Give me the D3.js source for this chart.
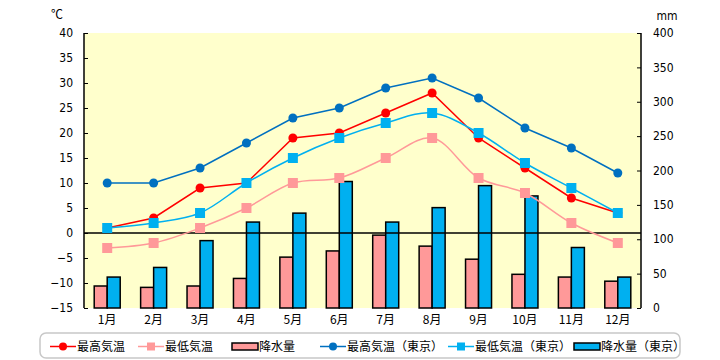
<!DOCTYPE html>
<html><head><meta charset="utf-8">
<script src="https://cdn.jsdelivr.net/npm/d3@7"></script>
<style>
html,body{margin:0;padding:0;background:#fff;}
svg{display:block;}
.jp{font-family:"Noto Sans CJK JP","Noto Sans",sans-serif;}
.num{font-family:"Liberation Sans Narrow","DejaVu Sans Condensed","Liberation Sans",sans-serif;}
</style></head>
<body>
<svg id="c" width="720" height="360"></svg>
<script>
const months = ["1月","2月","3月","4月","5月","6月","7月","8月","9月","10月","11月","12月"];
const highTemp = [1,3,9,10,19,20,24,28,19,13,7,4];
const lowTemp = [-3,-2,1,5,10,11,15,19,11,8,2,-2];
const precip = [32,30,32,43,74,83,106,90,71,49,45,39];
const highTokyo = [10,10,13,18,23,25,29,31,27,21,17,12];
const lowTokyo = [1,2,4,10,15,19,22,24,20,14,9,4];
const precipTokyo = [45,59,98,125,138,184,125,146,178,163,88,45];
const tempTicks = [-15,-10,-5,0,5,10,15,20,25,30,35,40];
const mmTicks = [0,50,100,150,200,250,300,350,400];
const legendLabels = ["最高気温","最低気温","降水量","最高気温（東京）","最低気温（東京）","降水量（東京）"];

const svg = d3.select("#c");
const L = 84, R = 641, T = 33, B = 308;
const x = d3.scaleBand().domain(months).range([L, R]);
const yT = d3.scaleLinear().domain([-15, 40]).range([B, T]);
const yP = d3.scaleLinear().domain([0, 400]).range([B, T]);

svg.append("rect").attr("x", L).attr("y", T).attr("width", R - L).attr("height", B - T).attr("fill", "#ffffcc");

const bw = 13;
const cx = m => x(m) + x.bandwidth() / 2;
// bars
svg.append("g").selectAll("rect").data(months).join("rect")
  .attr("x", m => cx(m) - bw).attr("y", (m, i) => yP(precip[i]))
  .attr("width", bw).attr("height", (m, i) => B - yP(precip[i]))
  .attr("fill", "#ff9999").attr("stroke", "#000").attr("stroke-width", 1.5);
svg.append("g").selectAll("rect").data(months).join("rect")
  .attr("x", m => cx(m)).attr("y", (m, i) => yP(precipTokyo[i]))
  .attr("width", bw).attr("height", (m, i) => B - yP(precipTokyo[i]))
  .attr("fill", "#00b0f0").attr("stroke", "#000").attr("stroke-width", 1.5);

// zero line
svg.append("line").attr("x1", L).attr("x2", R).attr("y1", yT(0)).attr("y2", yT(0)).attr("stroke", "#000").attr("stroke-width", 1.3);

// axes
const ax = svg.append("g").attr("transform", `translate(${L},0)`)
  .call(d3.axisRight(yT).tickValues(tempTicks).tickSize(4).tickFormat(""));
const ax2 = svg.append("g").attr("transform", `translate(${R},0)`)
  .call(d3.axisLeft(yP).tickValues(mmTicks).tickSize(4).tickFormat(""));
svg.selectAll(".domain").remove();
svg.append("line").attr("x1", L).attr("x2", L).attr("y1", T).attr("y2", B).attr("stroke", "#000").attr("stroke-width", 1.5);
svg.append("line").attr("x1", R).attr("x2", R).attr("y1", T).attr("y2", B).attr("stroke", "#000").attr("stroke-width", 1.5);

svg.append("g").selectAll("text").data(tempTicks).join("text").attr("class", "num")
  .attr("x", 73).attr("y", d => yT(d)).attr("dy", "0.35em").attr("text-anchor", "end")
  .attr("font-size", 12).text(d => d === 0 ? "0" : (d < 0 ? "−" + Math.abs(d) : d));
svg.append("g").selectAll("text").data(mmTicks).join("text").attr("class", "num")
  .attr("x", 653).attr("y", d => yP(d)).attr("dy", "0.35em").attr("text-anchor", "start")
  .attr("font-size", 12).text(d => d);
svg.append("g").selectAll("text").data(months).join("text").attr("class", "jp")
  .attr("x", m => cx(m)).attr("y", 324).attr("text-anchor", "middle").attr("font-size", 12).text(m => m);
svg.append("text").attr("class", "jp").attr("x", 57).attr("y", 19).attr("text-anchor", "middle").attr("font-size", 12).text("℃");
svg.append("text").attr("class", "num").attr("x", 667).attr("y", 20).attr("text-anchor", "middle").attr("font-size", 12).text("mm");

// lines
function drawLine(vals, color, curve, marker) {
  const line = d3.line().x((d, i) => cx(months[i])).y(d => yT(d)).curve(curve);
  svg.append("path").datum(vals).attr("d", line).attr("fill", "none").attr("stroke", color).attr("stroke-width", 1.5);
  const g = svg.append("g");
  if (marker === "circle") {
    g.selectAll("circle").data(vals).join("circle").attr("cx", (d, i) => cx(months[i])).attr("cy", d => yT(d)).attr("r", 4.5).attr("fill", color);
  } else {
    g.selectAll("rect").data(vals).join("rect").attr("x", (d, i) => cx(months[i]) - 5).attr("y", d => yT(d) - 5).attr("width", 10).attr("height", 10).attr("fill", color);
  }
}
drawLine(highTemp, "#ff0000", d3.curveLinear, "circle");
drawLine(lowTemp, "#ff9999", d3.curveCatmullRom.alpha(0.5), "square");
drawLine(highTokyo, "#0070c0", d3.curveLinear, "circle");
drawLine(lowTokyo, "#00b0f0", d3.curveCatmullRom.alpha(0.5), "square");

// legend
svg.append("rect").attr("x", 40).attr("y", 333).attr("width", 640).attr("height", 25).attr("rx", 6)
  .attr("fill", "#fff").attr("stroke", "#c8c8c8").attr("stroke-width", 1.5);
const items = [
  {x: 50, t: "line", c: "#ff0000", m: "circle"},
  {x: 138, t: "line", c: "#ff9999", m: "square"},
  {x: 232, t: "bar", c: "#ff9999"},
  {x: 320, t: "line", c: "#0070c0", m: "circle"},
  {x: 448, t: "line", c: "#00b0f0", m: "square"},
  {x: 574, t: "bar", c: "#00b0f0"}
];
const ly = 346.5;
items.forEach((it, i) => {
  const g = svg.append("g");
  if (it.t === "line") {
    g.append("line").attr("x1", it.x).attr("x2", it.x + 26).attr("y1", ly).attr("y2", ly).attr("stroke", it.c).attr("stroke-width", 1.5);
    if (it.m === "circle") g.append("circle").attr("cx", it.x + 13).attr("cy", ly).attr("r", 4).attr("fill", it.c);
    else g.append("rect").attr("x", it.x + 9).attr("y", ly - 4).attr("width", 8).attr("height", 8).attr("fill", it.c);
  } else {
    g.append("rect").attr("x", it.x).attr("y", ly - 3.5).attr("width", 26).attr("height", 7).attr("fill", it.c).attr("stroke", "#000").attr("stroke-width", 1.5);
  }
  g.append("text").attr("class", "jp").attr("x", it.x + 27).attr("y", ly).attr("dy", "0.36em").attr("font-size", 12).text(legendLabels[i]);
});
</script>
</body></html>
